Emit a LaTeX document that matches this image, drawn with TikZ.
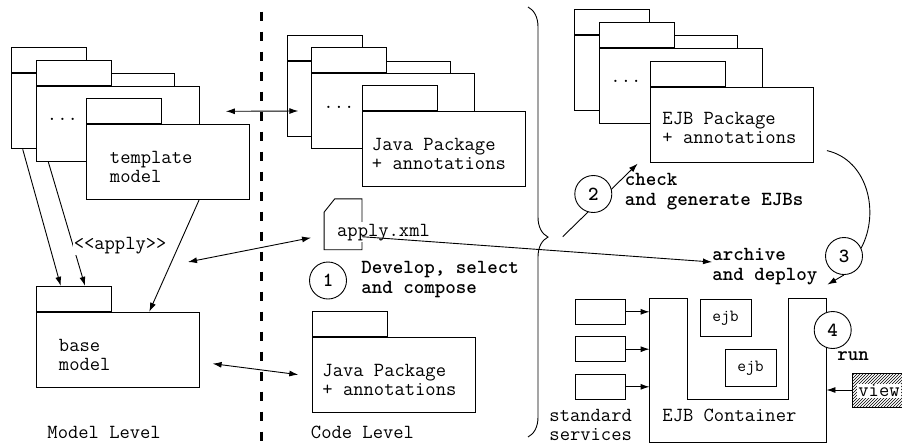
\documentclass[tikz,border=0pt]{standalone}
\usetikzlibrary{arrows.meta,patterns,decorations.pathreplacing}

\tikzset{
  pkgbody/.style={draw, fill=white, anchor=north west, inner sep=0pt,
    minimum width=163pt, minimum height=75pt},
  pkgtab/.style={draw, fill=white, anchor=south west, inner sep=0pt,
    minimum width=75pt, minimum height=25pt},
  txt/.style={anchor=west, align=left, inner sep=0pt},
  btxt/.style={txt, font=\ttfamily\bfseries\fontsize{20}{20}\selectfont},
  stage/.style={circle, draw, fill=white, minimum size=37pt, inner sep=0pt,
    font=\ttfamily\bfseries\fontsize{20}{19}\selectfont},
  svcbox/.style={draw, minimum width=50pt, minimum height=25pt, inner sep=0pt},
  ejbbox/.style={draw, minimum width=51pt, minimum height=37pt, inner sep=0pt,
    font=\ttfamily\fontsize{17}{17}\selectfont},
  arr/.style={-{Latex[length=9pt,width=6pt]}},
  darr/.style={{Latex[length=9pt,width=6pt]}-{Latex[length=9pt,width=6pt]}},
}

\begin{document}
\begin{tikzpicture}[x=1pt, y=-1pt, line width=0.9pt,
    font=\ttfamily\fontsize{20}{19}\selectfont]
  \useasboundingbox (0,0) rectangle (902,445);

  % model level
  \node[pkgbody] (ma) at (10.7,73.3) {};
  \node[pkgtab] (ma-tab) at (ma.north west) {};
  \node[pkgbody] (mb) at (35.7,86) {};
  \node[pkgtab] (mb-tab) at (mb.north west) {};
  \node[txt] (mdots) at (46.5,119) {...};
  \node[pkgbody] (mc) at (86,124.3) {};
  \node[pkgtab] (mc-tab) at (mc.north west) {};
  \node[txt] (mc-text) at (109.5,167.2) {template\\model};

  \node[pkgbody] (base) at (35.7,311.7) {};
  \node[pkgtab] (base-tab) at (base.north west) {};
  \node[txt] (base-text) at (58.5,355) {base\\model};

  \node[txt] (modellvl) at (47,432.7) {Model Level};

  \draw[arr] ([xshift=12pt]ma.south west) -- ([xshift=25pt]base-tab.north west);
  \draw[arr] ([xshift=12.6pt]mb.south west) -- ([xshift=49.3pt]base-tab.north west);
  \draw[arr] ([xshift=113pt]mc.south west) -- ([xshift=113.6pt]base.north west);
  \node[txt, fill=white, inner sep=1pt] (applylbl) at (72.3,246) {<<apply>>};

  \draw[line width=3.3pt, dash pattern=on 9pt off 11pt] (261.7,11.7) -- (261.7,445);

  % code level
  \node[pkgbody] (ca) at (286.7,61) {};
  \node[pkgtab] (ca-tab) at (ca.north west) {};
  \node[pkgbody] (cb) at (311,73.3) {};
  \node[pkgtab] (cb-tab) at (cb.north west) {};
  \node[txt] (cdots) at (323,107) {...};
  \node[pkgbody] (cc) at (361.7,111) {};
  \node[pkgtab] (cc-tab) at (cc.north west) {};
  \node[txt] (cc-text) at (371.5,153.8) {Java Package\\+ annotations};

  \node[minimum width=37pt, minimum height=50pt, inner sep=0pt] (xml) at (343,224.3) {};
  \draw (xml.south west) -- ([yshift=-13.4pt]xml.north west)
    -- ([xshift=10.7pt]xml.north west) -- (xml.north east)
    -- (xml.south east) -- cycle;
  \node[txt, fill=white, inner sep=1.5pt] (xml-text) at (335.2,232.3) {apply.xml};

  \node[stage] (s1) at (328,280.5) {1};
  \node[btxt] (develop) at (361,280) {Develop, select\\and compose};

  \node[pkgbody] (cd) at (311.7,336.7) {};
  \node[pkgtab] (cd-tab) at (cd.north west) {};
  \node[txt] (cd-text) at (322,380) {Java Package\\+ annotations};

  \node[txt] (codelvl) at (310.5,432.3) {Code Level};

  \coordinate (applyend) at (188,262);
  \draw[darr] ([xshift=-24pt,yshift=13pt]mc.north east) -- ([xshift=-63.4pt]cc.north west);
  \draw[darr] (applyend) -- ([xshift=-13pt,yshift=-13.4pt]xml.west);
  \draw[darr] ([xshift=13pt,yshift=-14pt]base.east) -- ([xshift=-13.4pt]cd.west);

  \draw[decorate, decoration={brace, amplitude=20pt, aspect=0.535}] (528,7) -- (528,437);

  % ejb side
  \node[pkgbody] (ea) at (574.3,35) {};
  \node[pkgtab] (ea-tab) at (ea.north west) {};
  \node[pkgbody] (eb) at (599.3,48.3) {};
  \node[pkgtab] (eb-tab) at (eb.north west) {};
  \node[txt] (edots) at (610,81) {...};
  \node[pkgbody] (ec) at (650,86.7) {};
  \node[pkgtab] (ec-tab) at (ec.north west) {};
  \node[txt] (ec-text) at (662,128.4) {EJB Package\\+ annotations};

  \coordinate (brtip) at (562.7,236.7);
  \draw[arr] (brtip) -- ([xshift=-12.3pt,yshift=-1pt]ec.south west);
  \node[stage] (s2) at (593.3,194) {2};
  \node[btxt] (check) at (624.5,191.7) {check\\and generate EJBs};

  \node[btxt] (deploy) at (712,267) {archive\\and deploy};
  \draw[arr] ([yshift=-12.4pt]xml.east) -- ([yshift=5pt]deploy.west);

  \node[minimum width=176pt, minimum height=143pt, inner sep=0pt] (cont) at (738,370.5) {};
  \draw (cont.north west) -- ++(38,0) -- ++(0,101) -- ++(101,0) -- ++(0,-101)
    -- (cont.north east) -- (cont.south east) -- (cont.south west) -- cycle;
  \node[txt] (contlbl) at (662,415.5) {EJB Container};
  \node[ejbbox] (ejb1) at (725.5,318) {ejb};
  \node[ejbbox] (ejb2) at (750.5,368.3) {ejb};

  \node[stage] (s3) at (844,256) {3};
  \draw ([xshift=13pt,yshift=12pt]ec.south east) .. controls (868,160) and (880,213) .. (s3.25);
  \draw[arr] (s3.south) -- ([xshift=1pt,yshift=14pt]cont.north east);

  \node[stage] (s4) at (832.7,330) {4};
  \node[btxt] (runlbl) at (837,356) {run};

  \node[svcbox] (svc1) at (600,311.8) {};
  \node[svcbox] (svc2) at (600,349.2) {};
  \node[svcbox] (svc3) at (600,386.8) {};
  \draw[arr] (svc1.east) -- (svc1.east -| cont.west);
  \draw[arr] (svc2.east) -- (svc2.east -| cont.west);
  \draw[arr] (svc3.east) -- (svc3.east -| cont.west);
  \node[txt] (svclbl) at (549,424.5) {standard\\services};

  \node[draw, pattern=north east lines, minimum width=54pt, minimum height=34pt,
    inner sep=0pt, anchor=west] (view) at (852,390) {};
  \node[fill=white, inner sep=1pt] (viewlbl) at (879,391) {view};
  \draw[arr] (view.west) -- (view.west -| cont.east);
\end{tikzpicture}
\end{document}
